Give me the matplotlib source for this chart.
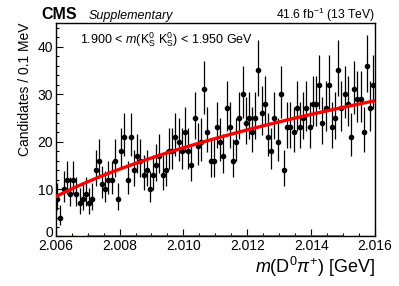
import numpy as np
import matplotlib
matplotlib.use("Agg")
import matplotlib.pyplot as plt
import matplotlib.transforms as mtransforms
from matplotlib.ticker import MultipleLocator, FormatStrFormatter

# ---- data ----
x_min, x_max = 2.006, 2.016
n_bins = 100
counts = [8, 4, 10, 12, 9, 12, 9, 7, 8, 9,
          7, 8, 14, 16, 11, 10, 12, 12, 16, 8,
          18, 21, 12, 21, 14, 17, 16, 13, 14, 10,
          13, 15, 17, 13, 14, 18, 18, 21, 20, 18,
          22, 18, 15, 25, 19, 20, 31, 22, 16, 16,
          23, 20, 17, 27, 23, 16, 20, 25, 30, 24,
          25, 22, 25, 35, 26, 28, 21, 18, 25, 20,
          30, 14, 23, 23, 22, 27, 23, 25, 27, 23,
          28, 28, 32, 24, 27, 32, 23, 25, 35, 27,
          30, 28, 21, 31, 29, 29, 22, 36, 27, 32]

# fit model: A * dm^b * exp(c*dm), dm in MeV above D0 pi threshold
fit_threshold = 2.00441
fit_A = np.exp(1.834)
fit_b = 0.670
fit_c = -0.0105

# small components near zero
green_range = [2.007, 2.015]
green_level = [0.15, 0.15]
magenta_ranges = [[2.006, 2.0066], [2.0153, 2.016]]

x_ticks = [2.006, 2.008, 2.010, 2.012, 2.014, 2.016]
y_ticks = [0, 10, 20, 30, 40]

# ---- plot ----
plt.rcParams['font.family'] = ['Liberation Sans', 'DejaVu Sans']
plt.rcParams['mathtext.fontset'] = 'custom'
plt.rcParams['mathtext.rm'] = 'Liberation Sans'
plt.rcParams['mathtext.it'] = 'Liberation Sans:italic'

fig = plt.figure(figsize=(3.99, 2.86), dpi=100)
ax = fig.add_axes([0.1396, 0.1731, 0.8003, 0.7465])

edges = np.linspace(x_min, x_max, n_bins + 1)
centers = 0.5 * (edges[:-1] + edges[1:])
N = np.array(counts, dtype=float)
err_lo = np.sqrt(N + 0.25) - 0.5
err_hi = np.sqrt(N + 0.25) + 0.5

ax.errorbar(centers, N, yerr=[err_lo, err_hi], fmt='o', color='black',
            markersize=3.0, elinewidth=0.9, capsize=0, zorder=3)

xf = np.linspace(x_min, x_max, 400)
dm = (xf - fit_threshold) * 1000.0
yf = fit_A * dm ** fit_b * np.exp(fit_c * dm)
ax.plot(xf, yf, color='#ff0000', lw=2.4, zorder=4)

ax.plot(green_range, green_level, color='#1aa01a', lw=1.2, zorder=2)
for r in magenta_ranges:
    ax.plot(r, [0.1, 0.1], color='#cc44cc', lw=1.0, zorder=2)

ax.set_xlim(x_min, x_max)
ax.set_ylim(0, 45)
ax.set_xticks(x_ticks)
ax.set_yticks(y_ticks)
ax.xaxis.set_major_formatter(FormatStrFormatter('%.3f'))
ax.xaxis.set_minor_locator(MultipleLocator(0.0005))
ax.yaxis.set_minor_locator(MultipleLocator(2))
ax.tick_params(which='both', direction='in', top=False, right=False,
               labelsize=10)
ax.tick_params(axis='x', pad=2)
ax.tick_params(axis='y', pad=2)
ax.tick_params(which='major', length=5, width=0.8)
ax.tick_params(which='minor', length=2.5, width=0.8)
for s in ax.spines.values():
    s.set_linewidth(1.0)

# lift the "0" y label slightly so it clears the first x label
fig.canvas.draw()
ylabels = ax.get_yticklabels()
if ylabels:
    lab0 = ylabels[0]
    lab0.set_transform(lab0.get_transform() +
                       mtransforms.ScaledTranslation(0, 5 / 100, fig.dpi_scale_trans))

ax.set_xlabel(r'$m$(D$^0$$\pi^{+}$) [GeV]', fontsize=13, loc='right', labelpad=1)
ax.set_ylabel('Candidates / 0.1 MeV', fontsize=10, loc='top', labelpad=4)

fig.text(0.103, 0.935, 'CMS', fontsize=11.5, fontweight='bold', ha='left', va='baseline')
fig.text(0.222, 0.935, 'Supplementary', fontsize=9, style='italic', ha='left', va='baseline')
fig.text(0.940, 0.935, r'41.6 fb$^{-1}$ (13 TeV)', fontsize=8.7, ha='right', va='baseline')
ax.text(0.075, 0.905, r'1.900 < $m$(K$^0_\mathrm{S}$ K$^0_\mathrm{S}$) < 1.950 GeV',
        transform=ax.transAxes, fontsize=9, ha='left', va='baseline')

fig.savefig('out.png', dpi=100)
